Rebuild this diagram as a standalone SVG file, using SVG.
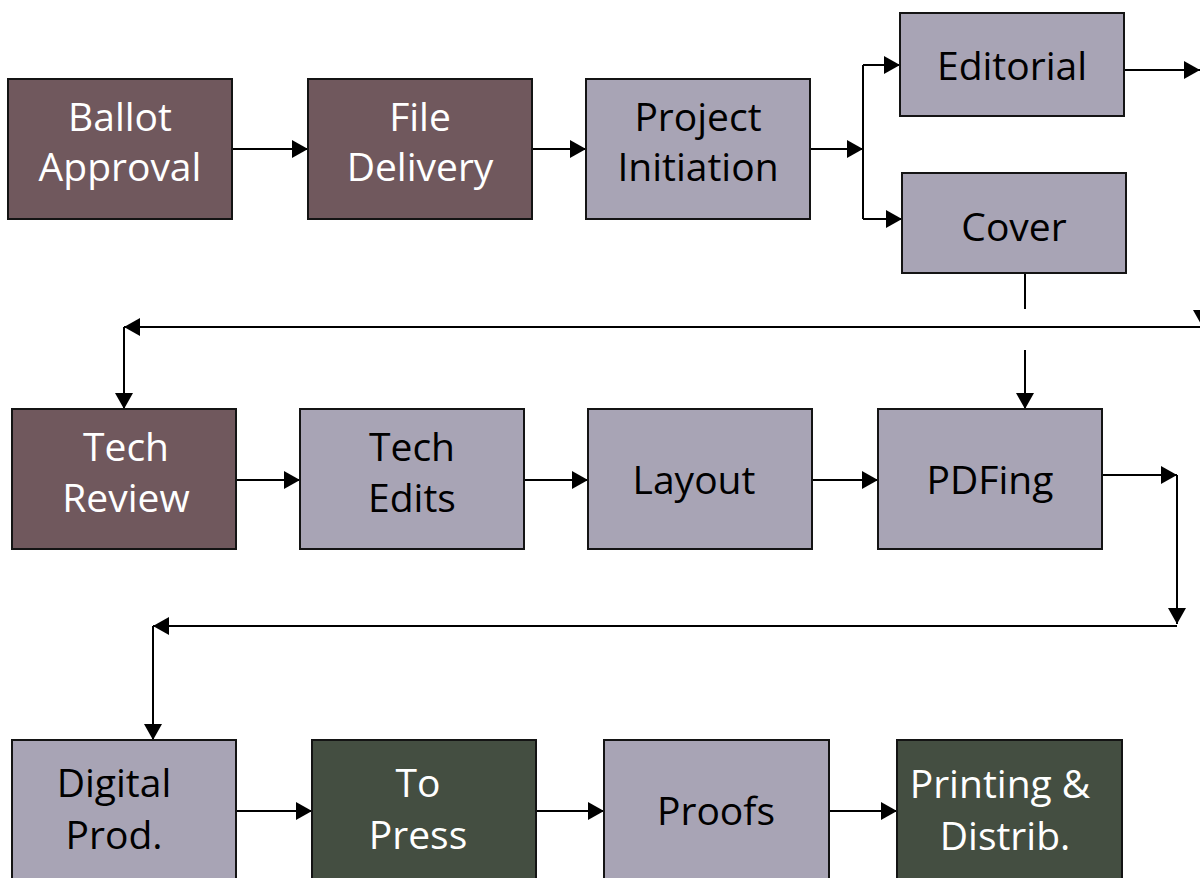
<svg xmlns="http://www.w3.org/2000/svg" width="1200" height="878" viewBox="0 0 1200 878">
<style>
.box{stroke:#141414;stroke-width:2}
.m{fill:#70585D}
.g{fill:#A8A4B5}
.d{fill:#444E41}
text{font-family:"Open Sans","Noto Sans","DejaVu Sans",sans-serif;font-size:39px;text-anchor:middle}
.w{fill:#FFFFFF}
.k{fill:#000000}
.c path,.c line{stroke:#000;stroke-width:2;fill:none}
</style>
<defs>
<marker id="ah" markerUnits="userSpaceOnUse" viewBox="0 0 16 18" markerWidth="16" markerHeight="18" refX="16" refY="9" orient="auto">
<path d="M0,0 L16,9 L0,18 z" fill="#000"/>
</marker>
</defs>
<rect width="1200" height="878" fill="#FFFFFF"/>
<g class="c">
<path d="M232,149 H308" marker-end="url(#ah)"/>
<path d="M532,149 H586" marker-end="url(#ah)"/>
<path d="M810,149 H863" marker-end="url(#ah)"/>
<path d="M863,65 V219"/>
<path d="M863,65 H900" marker-end="url(#ah)"/>
<path d="M863,219 H902" marker-end="url(#ah)"/>
<path d="M1124,70 H1200" marker-end="url(#ah)"/>
<path d="M1202,70 V326" marker-end="url(#ah)"/>
<path d="M1025,273 V309"/>
<path d="M1200,327 H124" marker-end="url(#ah)"/>
<path d="M124,327 V409" marker-end="url(#ah)"/>
<path d="M1025,350 V409" marker-end="url(#ah)"/>
<path d="M236,480 H300" marker-end="url(#ah)"/>
<path d="M524,480 H588" marker-end="url(#ah)"/>
<path d="M812,480 H878" marker-end="url(#ah)"/>
<path d="M1102,475 H1177" marker-end="url(#ah)"/>
<path d="M1177,475 V624" marker-end="url(#ah)"/>
<path d="M1177,626 H153" marker-end="url(#ah)"/>
<path d="M153,626 V740" marker-end="url(#ah)"/>
<path d="M236,811 H312" marker-end="url(#ah)"/>
<path d="M536,811 H604" marker-end="url(#ah)"/>
<path d="M829,811 H897" marker-end="url(#ah)"/>
</g>
<g id="ballot"><rect class="box m" x="8" y="79" width="224" height="140"/><text class="w" x="120" y="131">Ballot</text><text class="w" x="120" y="181">Approval</text></g>
<g id="file"><rect class="box m" x="308" y="79" width="224" height="140"/><text class="w" x="420" y="131">File</text><text class="w" x="420" y="181">Delivery</text></g>
<g id="project"><rect class="box g" x="586" y="79" width="224" height="140"/><text class="k" x="698" y="131">Project</text><text class="k" x="698" y="181">Initiation</text></g>
<g id="editorial"><rect class="box g" x="900" y="13" width="224" height="103"/><text class="k" x="1012" y="80">Editorial</text></g>
<g id="cover"><rect class="box g" x="902" y="173" width="224" height="100"/><text class="k" x="1014" y="241">Cover</text></g>
<g id="techreview"><rect class="box m" x="12" y="409" width="224" height="140"/><text class="w" x="126" y="461">Tech</text><text class="w" x="126" y="512">Review</text></g>
<g id="techedits"><rect class="box g" x="300" y="409" width="224" height="140"/><text class="k" x="412" y="461">Tech</text><text class="k" x="412" y="512">Edits</text></g>
<g id="layout"><rect class="box g" x="588" y="409" width="224" height="140"/><text class="k" x="694" y="494">Layout</text></g>
<g id="pdfing"><rect class="box g" x="878" y="409" width="224" height="140"/><text class="k" x="990" y="494">PDFing</text></g>
<g id="digital"><rect class="box g" x="12" y="740" width="224" height="150"/><text class="k" x="114" y="797">Digital</text><text class="k" x="114" y="849">Prod.</text></g>
<g id="topress"><rect class="box d" x="312" y="740" width="224" height="150"/><text class="w" x="418" y="797">To</text><text class="w" x="418" y="849">Press</text></g>
<g id="proofs"><rect class="box g" x="604" y="740" width="225" height="150"/><text class="k" x="716" y="825">Proofs</text></g>
<g id="printing"><rect class="box d" x="897" y="740" width="225" height="150"/><text class="w" x="1000" y="798">Printing &amp;</text><text class="w" x="1005" y="850">Distrib.</text></g>
</svg>
